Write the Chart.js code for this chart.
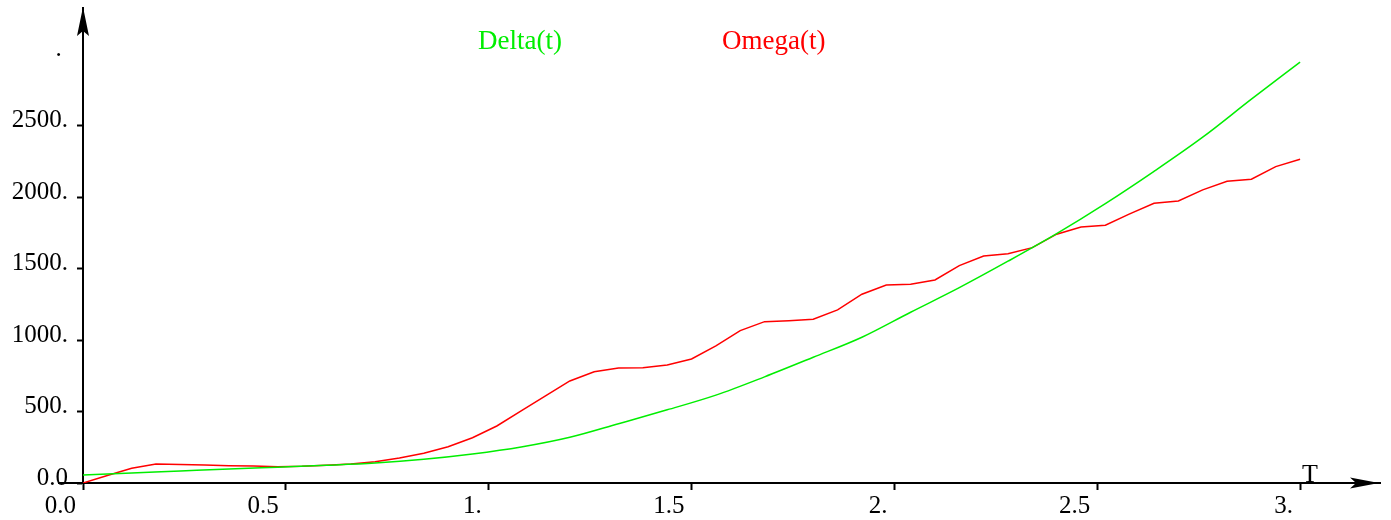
<!DOCTYPE html>
<html>
<head>
<meta charset="utf-8">
<title>Delta(t) / Omega(t)</title>
<script src="https://cdn.jsdelivr.net/npm/chart.js@4.4.1/dist/chart.umd.min.js"></script>
<style>
  html, body { margin: 0; padding: 0; background: #fff; }
  #wrap { width: 1391px; height: 520px; }
</style>
</head>
<body>
<div id="wrap"><canvas id="chart" width="1391" height="520"></canvas></div>
<script>
// Omega(t) sampled every 0.06, Delta(t) every 0.12
const omegaT = [];
for (let i = 0; i <= 50; i++) omegaT.push(+(i * 0.06).toFixed(2));
const omegaValues = [0, 52, 103, 133, 129, 126, 121, 119, 114, 117,
  124, 133, 149, 175, 208, 254, 317, 399, 504, 609,
  714, 779, 805, 807, 826, 868, 959, 1066, 1129, 1136,
  1146, 1211, 1321, 1386, 1391, 1421, 1521, 1589, 1605, 1647,
  1741, 1792, 1804, 1883, 1958, 1974, 2051, 2112, 2126, 2214, 2266];

const deltaT = [];
for (let k = 0; k <= 25; k++) deltaT.push(+(k * 0.12).toFixed(2));
const deltaValues = [56, 70, 84, 98, 111, 124, 140, 166, 203, 252,
  320, 415, 512, 615, 743, 880, 1020, 1195, 1367, 1552,
  1745, 1955, 2181, 2420, 2686, 2945];

const xTicks = [0, 0.5, 1, 1.5, 2, 2.5, 3];
const xTickLabels = ['0.0', '0.5', '1.', '1.5', '2.', '2.5', '3.'];
const yTicks = [0, 500, 1000, 1500, 2000, 2500, 3000];
const yTickLabels = ['0.0', '500.', '1000.', '1500.', '2000.', '2500.', '. '];

const serif = '"Liberation Serif", "Times New Roman", serif';

// arrows, T label, legend text
const decorPlugin = {
  id: 'decor',
  afterDraw(chart) {
    const ctx = chart.ctx;
    const a = chart.chartArea;
    const x0 = chart.scales.x.getPixelForValue(0);
    const y0 = chart.scales.y.getPixelForValue(0);
    ctx.save();
    ctx.fillStyle = '#000';
    ctx.strokeStyle = '#000';
    ctx.lineWidth = 2;
    // little stub of x axis left of the origin
    ctx.beginPath();
    ctx.moveTo(x0 - 25, y0);
    ctx.lineTo(x0, y0);
    ctx.stroke();
    // y arrow
    ctx.beginPath();
    ctx.moveTo(x0, a.top - 1);
    ctx.lineTo(x0 - 6, a.top + 28);
    ctx.lineTo(x0, a.top + 23);
    ctx.lineTo(x0 + 6, a.top + 28);
    ctx.closePath();
    ctx.fill();
    // x arrow
    ctx.beginPath();
    ctx.moveTo(a.right - 1, y0);
    ctx.lineTo(a.right - 30, y0 - 5.5);
    ctx.lineTo(a.right - 24, y0);
    ctx.lineTo(a.right - 30, y0 + 5.5);
    ctx.closePath();
    ctx.fill();
    // axis name
    ctx.font = '26px ' + serif;
    ctx.textAlign = 'left';
    ctx.textBaseline = 'alphabetic';
    ctx.fillText('T', chart.scales.x.getPixelForValue(3) + 2, y0 - 1);
    // legend
    const legendX = [478, 722];
    ctx.font = '27px ' + serif;
    chart.data.datasets.forEach((ds, i) => {
      ctx.fillStyle = ds.borderColor;
      ctx.fillText(ds.label, legendX[i], 49);
    });
    ctx.restore();
  }
};

new Chart(document.getElementById('chart'), {
  type: 'line',
  data: {
    datasets: [
      {
        label: 'Delta(t)',
        data: deltaT.map((t, i) => ({ x: t, y: deltaValues[i] })),
        borderColor: '#00ee00',
        borderWidth: 1.5,
        pointRadius: 0,
        cubicInterpolationMode: 'monotone',
        fill: false
      },
      {
        label: 'Omega(t)',
        data: omegaT.map((t, i) => ({ x: t, y: omegaValues[i] })),
        borderColor: '#ff0000',
        borderWidth: 1.5,
        pointRadius: 0,
        tension: 0,
        fill: false
      }
    ]
  },
  options: {
    responsive: false,
    animation: false,
    devicePixelRatio: 1,
    layout: { padding: { top: 8, right: 11, left: 0, bottom: 0 } },
    plugins: {
      legend: { display: false },
      tooltip: { enabled: false }
    },
    scales: {
      x: {
        type: 'linear',
        min: 0,
        max: 3.197,
        afterBuildTicks: s => { s.ticks = xTicks.map(v => ({ value: v })); },
        afterFit: s => { s.height = 37; s.paddingLeft = 0; s.paddingRight = 0; },
        border: { display: true, color: '#000', width: 2 },
        grid: { drawOnChartArea: false, drawTicks: true, tickLength: 7, tickWidth: 2, tickColor: '#000' },
        ticks: {
          color: '#000',
          font: { family: serif, size: 25 },
          padding: 1,
          align: 'end',
          labelOffset: -7,
          maxRotation: 0,
          autoSkip: false,
          callback: (v, i) => xTickLabels[i]
        }
      },
      y: {
        type: 'linear',
        min: 0,
        max: 3324,
        afterBuildTicks: s => { s.ticks = yTicks.map(v => ({ value: v })); },
        afterFit: s => { s.width = 83; s.paddingTop = 0; s.paddingBottom = 0; },
        border: { display: true, color: '#000', width: 2 },
        grid: {
          drawOnChartArea: false, drawTicks: true, tickLength: 6, tickWidth: 2,
          tickColor: c => (c.tick && c.tick.value === 3000) ? 'rgba(0,0,0,0)' : '#000'
        },
        ticks: {
          color: '#000',
          font: { family: serif, size: 25 },
          padding: 9,
          labelOffset: -5,
          autoSkip: false,
          callback: (v, i) => yTickLabels[i]
        }
      }
    }
  },
  plugins: [decorPlugin]
});
</script>
</body>
</html>
